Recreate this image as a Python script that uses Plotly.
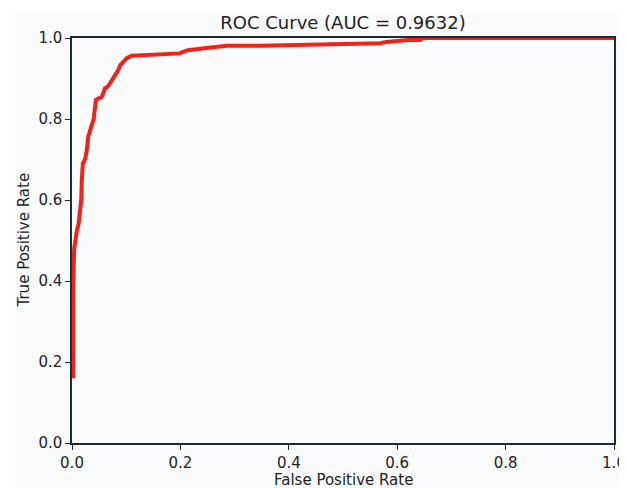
import plotly.graph_objects as go

fpr = [0.002, 0.002, 0.004, 0.006, 0.009, 0.012, 0.015, 0.017, 0.018, 0.020, 0.024, 0.027, 0.030, 0.035,
       0.040, 0.044, 0.050, 0.055, 0.061, 0.066, 0.070, 0.078, 0.085, 0.089, 0.095, 0.101, 0.110, 0.130,
       0.160, 0.175, 0.199, 0.205, 0.214, 0.240, 0.273, 0.285, 0.347, 0.378, 0.450, 0.520, 0.568, 0.580,
       0.599, 0.620, 0.642, 0.648, 0.700, 1.0]
tpr = [0.16, 0.38, 0.48, 0.50, 0.525, 0.54, 0.57, 0.60, 0.65, 0.69, 0.70, 0.72, 0.757, 0.78,
       0.80, 0.847, 0.851, 0.855, 0.876, 0.88, 0.888, 0.905, 0.92, 0.933, 0.94, 0.950, 0.956, 0.957,
       0.958, 0.960, 0.962, 0.966, 0.970, 0.974, 0.979, 0.981, 0.981, 0.982, 0.983, 0.985, 0.987, 0.990,
       0.993, 0.995, 0.995, 1.0, 1.0, 1.0]
ticks = [0.0, 0.2, 0.4, 0.6, 0.8, 1.0]
tick_text = ["0.0", "0.2", "0.4", "0.6", "0.8", "1.0"]
auc = 0.9632

# the page body has an 8px margin, so the figure is drawn 8px right/down
OFF = 8
W, H = 627 - OFF, 488 - OFF
L, T = 72 - OFF, 38 - OFF
R = W - (614 - OFF)
B = H - (443 - OFF)
pw, ph = W - L - R, H - T - B

fig = go.Figure()
fig.add_trace(go.Scatter(x=fpr, y=tpr, mode="lines",
                         line=dict(color="#f0221a", width=4), showlegend=False))

font = dict(family="DejaVu Sans", size=15, color="#222")
axis_common = dict(showgrid=False, zeroline=False, showline=True, linecolor="#1f2d33",
                   linewidth=1.5, mirror=True, ticks="outside", ticklen=5, tickwidth=1.2,
                   tickcolor="#1f2d33", tickfont=font, automargin=False,
                   tickvals=ticks, ticktext=tick_text)

fig.update_layout(
    width=W, height=H,
    margin=dict(l=L, r=R, t=T, b=B),
    paper_bgcolor="#fafbfd", plot_bgcolor="#fafbfd",
    title=dict(text=f"ROC Curve (AUC = {auc})", x=0.5, xref="paper", xanchor="center",
               y=1 - (23 - OFF) / H, yanchor="middle", yref="container",
               font=dict(family="DejaVu Sans", size=18, color="#222")),
    xaxis=dict(range=[0, 1], **axis_common),
    yaxis=dict(range=[0, 1], **axis_common),
    annotations=[
        dict(text="False Positive Rate", xref="paper", yref="paper", x=0.5,
             y=-((480 - OFF) - (T + ph)) / ph, xanchor="center", yanchor="middle",
             showarrow=False, font=font),
        dict(text="True Positive Rate", xref="paper", yref="paper", x=-(L - (23 - OFF)) / pw,
             y=0.5, xanchor="center", yanchor="middle", textangle=-90, showarrow=False, font=font),
    ],
    shapes=[
        dict(type="rect", xref="paper", yref="paper", x0=-L / pw, x1=-(L - 7) / pw,
             y0=-B / ph, y1=(H - T) / ph, fillcolor="white", line_width=0, layer="below"),
        dict(type="rect", xref="paper", yref="paper", x0=-L / pw, x1=(W - L) / pw,
             y0=1 + (T - 5) / ph, y1=1 + T / ph, fillcolor="white", line_width=0, layer="below"),
    ],
)
fig.write_html("out.html")
